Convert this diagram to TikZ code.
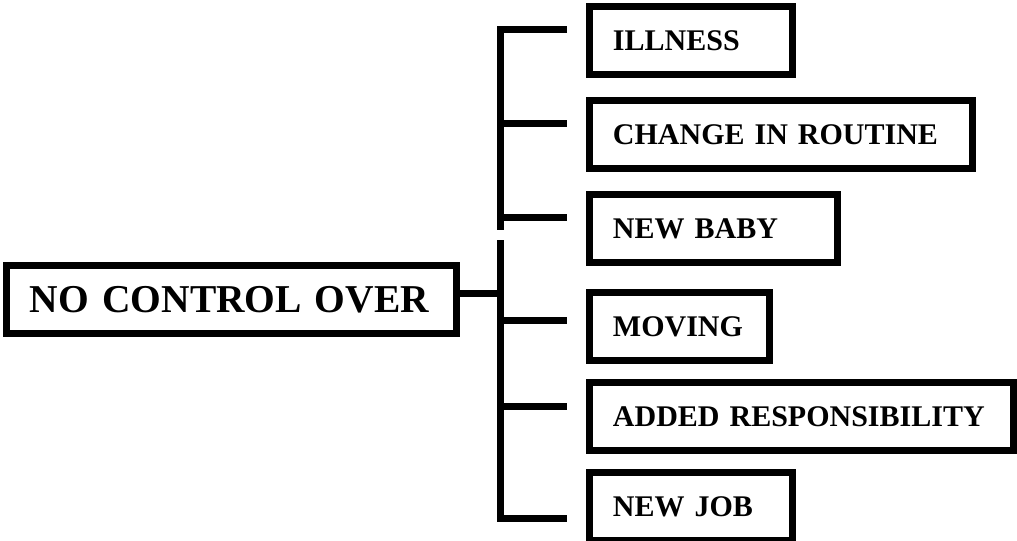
\documentclass[tikz,border=0pt]{standalone}
\usepackage{fontspec}
\setmainfont{Liberation Serif}
\tikzset{
  causebox/.style={draw=black, line width=5.25pt, font=\fontsize{22.5}{26}\selectfont\bfseries, inner xsep=17.6pt, inner ysep=0pt, minimum height=51pt, outer sep=0pt, anchor=west, align=left, text height=15pt, text depth=0pt},
  mainbox/.style={causebox, font=\fontsize{29.6}{34}\selectfont\bfseries, text height=20pt},
  bracket/.style={line width=5.25pt, draw=black, line join=miter}
}

\begin{document}
\begin{tikzpicture}[x=0.75pt, y=-0.75pt]
  \useasboundingbox (0,0) rectangle (1017,540);
  % left box
  \node[mainbox, text width=302.25pt] (control) at (6.5,299.5) {\mbox{NO CONTROL OVER}};
  % the six causes
  \node[causebox, text width=117pt] (illness) at (589.5,40.5) {ILLNESS};
  \node[causebox, text width=252pt] (routine) at (589.5,134) {CHANGE IN ROUTINE};
  \node[causebox, text width=150.75pt] (baby) at (589.5,228.5) {NEW BABY};
  \node[causebox, text width=99.75pt] (moving) at (589.5,326.5) {MOVING};
  \node[causebox, text width=282.75pt] (duty) at (589.5,416.5) {\mbox{ADDED RESPONSIBILITY}};
  \node[causebox, text width=117pt] (job) at (589.5,506) {NEW JOB};
  % bracket points
  \coordinate (hub) at (500,293);
  \coordinate (upend) at (500,230);
  \coordinate (lowstart) at (500,240);
  \coordinate (b1) at (567,29);
  \coordinate (b2) at (567,123);
  \coordinate (b3) at (567,217);
  \coordinate (b4) at (567,320);
  \coordinate (b5) at (567,406);
  \coordinate (b6) at (567,518);
  \draw[bracket] (control.east |- hub) -- (hub);
  \draw[bracket] (b1) -| (upend);
  \draw[bracket] (lowstart) |- (b6);
  \foreach \b in {b2,b3,b4,b5}
    \draw[bracket] (\b -| hub) -- (\b);
\end{tikzpicture}
\end{document}
